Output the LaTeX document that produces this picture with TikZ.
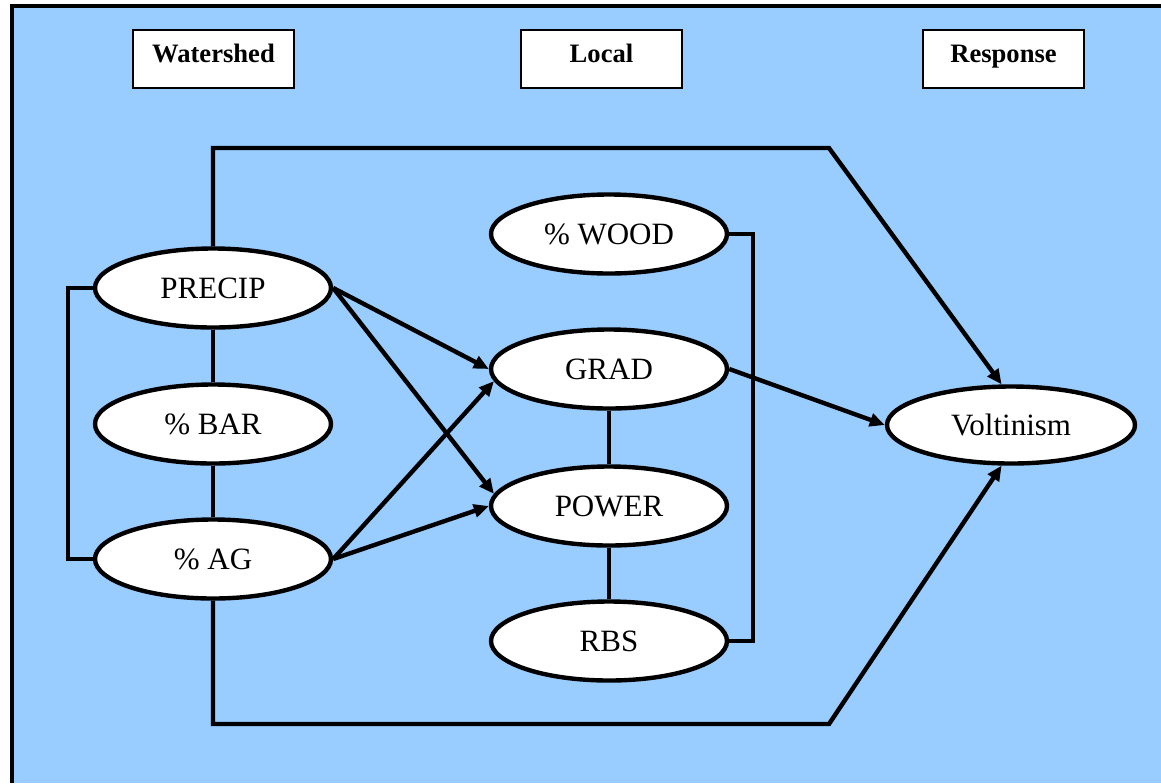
\documentclass[tikz,border=0pt]{standalone}
\usepackage{fontspec}
\setmainfont{Liberation Serif}
\usepackage{tikz}
\usetikzlibrary{arrows.meta,shapes.geometric}
\definecolor{skyfill}{HTML}{99CCFF}

\begin{document}
\begin{tikzpicture}[x=.5pt,y=-.5pt,line width=2.2pt,
  var/.style={ellipse,draw,fill=white,line width=2.2pt,minimum width=118pt,minimum height=39.5pt,inner sep=0pt,font=\fontsize{15.5}{18}\selectfont},
  head/.style={rectangle,draw,fill=white,line width=1.1pt,minimum width=80.5pt,minimum height=29pt,inner sep=0pt,text height=6pt,text depth=3pt,font=\fontsize{13.3}{16}\selectfont\bfseries},
  link/.style={line width=2.2pt},
  arr/.style={link,-{Triangle[length=7.5pt,width=6.5pt]}}]
\useasboundingbox (0,0) rectangle (1161,783);
% background panel, cut at the right and bottom edges
\fill[skyfill] (12,6) rectangle (1161,783);
\draw[line width=1.6pt] (12,783)--(12,6)--(1161,6);
% column headings
\node[head] (hwat) at (213.5,59) {Watershed};
\node[head] (hloc) at (601.5,59) {Local};
\node[head] (hres) at (1003.5,59) {Response};
% watershed variables
\node[var] (precip) at (213,288) {PRECIP};
\node[var] (bar) at (213,424) {\% BAR};
\node[var] (ag) at (213,559) {\% AG};
% local variables
\node[var] (wood) at (609,234) {\% WOOD};
\node[var] (grad) at (609,369) {GRAD};
\node[var] (power) at (609,506) {POWER};
\node[var] (rbs) at (609,641) {RBS};
% response
\node[var,minimum width=124pt,minimum height=38.5pt] (volt) at (1011,425) {Voltinism};
\coordinate (lbar) at (68,0);
\coordinate (rbar) at (753,0);
\coordinate (topl) at (213,148);
\coordinate (topr) at (829,148);
\coordinate (botl) at (213,724);
\coordinate (botr) at (829,724);
% correlations
\draw[link] (precip.south)--(bar.north);
\draw[link] (bar.south)--(ag.north);
\draw[link] (precip.west)--(precip.west -| lbar)--(ag.west -| lbar)--(ag.west);
\draw[link] (grad.south)--(power.north);
\draw[link] (power.south)--(rbs.north);
\draw[link] (wood.east)--(wood.east -| rbar)--(rbs.east -| rbar)--(rbs.east);
% paths
\draw[arr] (precip.east)--(grad.west);
\draw[arr] (precip.east)--(power.174);
\draw[arr] (ag.east)--(grad.186);
\draw[arr] (ag.east)--(power.west);
\draw[arr] (grad.east)--(volt.west);
\draw[arr] (precip.north)--(topl)--(topr)--(volt.103);
\draw[arr] (ag.south)--(botl)--(botr)--(volt.257);
\end{tikzpicture}
\end{document}
